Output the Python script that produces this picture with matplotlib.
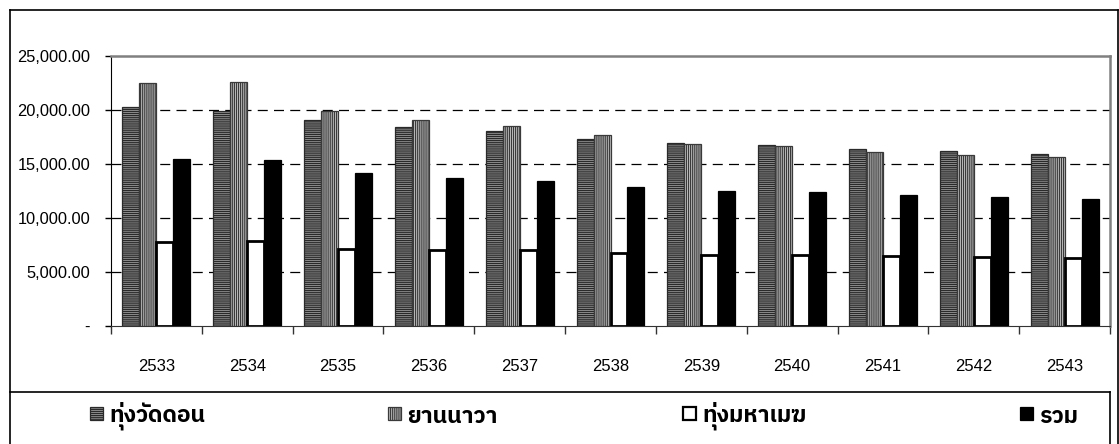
import numpy as np
import matplotlib
matplotlib.use("Agg")
import matplotlib.pyplot as plt
from matplotlib import font_manager, ft2font
from matplotlib.patches import Rectangle
from matplotlib.lines import Line2D
from matplotlib.ticker import FuncFormatter

# Annual figures per district, Buddhist-era years
years = ["2533", "2534", "2535", "2536", "2537", "2538", "2539", "2540", "2541", "2542", "2543"]
thung_wat_don = [20250, 19880, 19070, 18400, 18060, 17310, 16910, 16790, 16360, 16170, 15930]
yan_nawa = [22530, 22600, 19900, 19050, 18490, 17720, 16880, 16630, 16140, 15830, 15650]
thung_maha_mek = [7800, 7840, 7160, 7040, 7000, 6760, 6570, 6600, 6510, 6420, 6330]
total = [15460, 15340, 14200, 13670, 13460, 12900, 12530, 12440, 12100, 11940, 11790]
series_names = ["ทุ่งวัดดอน", "ยานนาวา", "ทุ่งมหาเมฆ", "รวม"]


def thai_family():
    preferred = []
    others = []
    for fe in font_manager.fontManager.ttflist:
        try:
            f = ft2font.FT2Font(fe.fname)
            if f.get_char_index(0x0E17) and f.get_char_index(0x0E27):
                (preferred if "Thai" in fe.name else others).append(fe.name)
        except Exception:
            pass
    for group in (preferred, others):
        if group:
            return group[0]
    return "DejaVu Sans"


THAI = thai_family()
plt.rcParams["font.family"] = ["Liberation Sans", "DejaVu Sans"]
plt.rcParams["hatch.linewidth"] = 0.9

W, H = 1119, 444
fig = plt.figure(figsize=(W / 100, H / 100), dpi=100)


def fx(px):
    return px / W


def fy(py):
    return 1 - py / H


ax = fig.add_axes([fx(111), fy(326), fx(1110) - fx(111), fy(56) - fy(326)])

styles = [
    dict(facecolor="#9a9a9a", edgecolor="#2a2a2a", hatch="--------", linewidth=0.9),
    dict(facecolor="#cfcfcf", edgecolor="#3a3a3a", hatch="||||||||", linewidth=0.9),
    dict(facecolor="white", edgecolor="black", linewidth=2.0),
    dict(facecolor="black", edgecolor="black", linewidth=0.9),
]
data = [thung_wat_don, yan_nawa, thung_maha_mek, total]

x = np.arange(len(years))
bw = 0.187
for i, (vals, st) in enumerate(zip(data, styles)):
    ax.bar(x + (i - 1.5) * bw, vals, width=bw, zorder=3, **st)

ax.set_xlim(-0.5, len(years) - 0.5)
ax.set_ylim(0, 25000)
ax.set_yticks(np.arange(0, 25001, 5000))
ax.yaxis.set_major_formatter(FuncFormatter(lambda v, p: "-" if v == 0 else f"{v:,.2f}"))
ax.tick_params(axis="y", direction="out", length=4, width=1, pad=11, labelsize=11.8)

# category boundaries carry the tick marks, labels sit at category centres
ax.set_xticks(np.arange(-0.5, len(years), 1.0))
ax.set_xticklabels([])
ax.set_xticks(x, minor=True)
ax.set_xticklabels(years, minor=True)
ax.tick_params(axis="x", which="major", direction="out", length=6, width=1, color="#333333")
ax.tick_params(axis="x", which="minor", length=0, pad=24, labelsize=12)

for v in range(5000, 25000, 5000):
    ax.axhline(v, color="black", lw=0.9, ls=(0, (8, 5)), zorder=1)

ax.spines["top"].set_color("#808080")
ax.spines["right"].set_color("#808080")
ax.spines["top"].set_linewidth(1.8)
ax.spines["right"].set_linewidth(1.8)
ax.spines["left"].set_color("black")
ax.spines["bottom"].set_color("#333333")

# outer chart frame
fig.add_artist(Line2D([fx(10), fx(10)], [fy(10), fy(444)], color="black", lw=1.2))
fig.add_artist(Line2D([fx(10), fx(1118)], [fy(10), fy(10)], color="black", lw=1.2))
fig.add_artist(Line2D([fx(1118), fx(1118)], [fy(10), fy(444)], color="black", lw=1.2))

# legend box
fig.add_artist(Line2D([fx(10), fx(1110)], [fy(392), fy(392)], color="black", lw=1.2))
fig.add_artist(Line2D([fx(1110), fx(1110)], [fy(392), fy(444)], color="black", lw=1.2))

legend_x = [90, 388, 683, 1020]
ly = 414
for name, st, lx in zip(series_names, styles, legend_x):
    st2 = dict(st)
    st2["linewidth"] = 1.6 if st["facecolor"] == "white" else 0.9
    fig.add_artist(Rectangle((fx(lx), fy(ly + 6)), fx(13), 13 / H,
                             transform=fig.transFigure, **st2))
    fig.text(fx(lx + 19), fy(ly + 2), name, fontsize=16.5, fontweight="bold",
             family=[THAI, "DejaVu Sans"], va="center", ha="left")

fig.savefig("out.png", dpi=100)
